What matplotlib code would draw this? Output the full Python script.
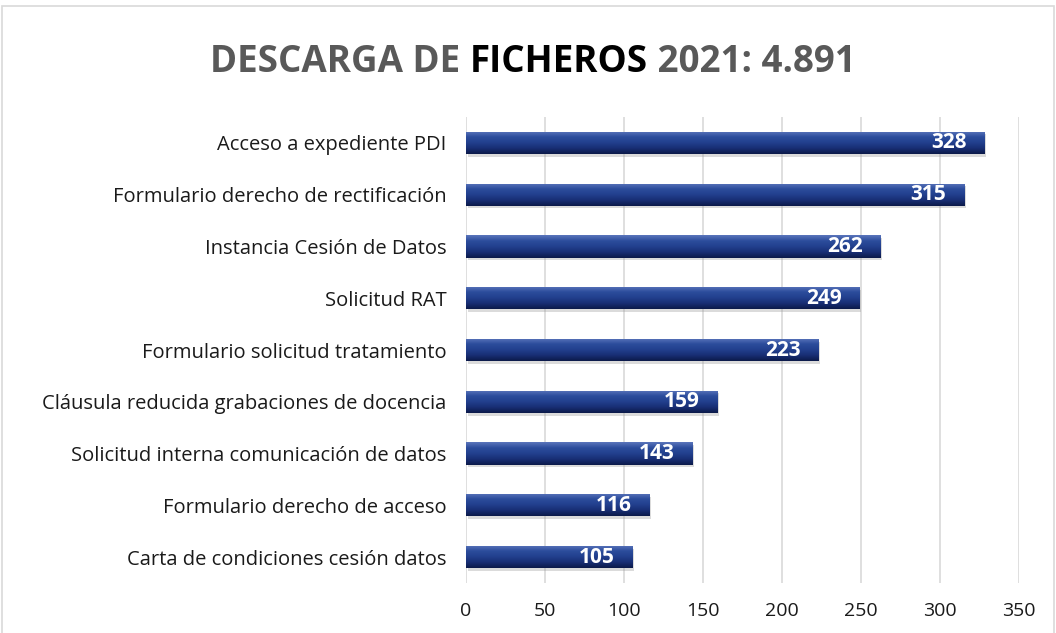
import numpy as np
import matplotlib
matplotlib.use("Agg")
import matplotlib.pyplot as plt
from matplotlib.colors import LinearSegmentedColormap
from matplotlib.patches import Rectangle

# data (bottom to top)
categories = ["Carta de condiciones cesión datos",
              "Formulario derecho de acceso",
              "Solicitud interna comunicación de datos",
              "Cláusula reducida grabaciones de docencia",
              "Formulario solicitud tratamiento",
              "Solicitud RAT",
              "Instancia Cesión de Datos",
              "Formulario derecho de rectificación",
              "Acceso a expediente PDI"]
downloads = [105, 116, 143, 159, 223, 249, 262, 315, 328]
xticks = [0, 50, 100, 150, 200, 250, 300, 350]

plt.rcParams['font.family'] = ['Open Sans', 'DejaVu Sans']

fig = plt.figure(figsize=(10.56, 6.33), dpi=100)
ax = fig.add_axes([0.441, 0.079, 0.524, 0.736])

# vertical gradient for the bars, light top -> dark bottom
bar_cmap = LinearSegmentedColormap.from_list(
    "barshade", ["#0c1a4a", "#182e74", "#22408e", "#2c4d9c", "#5a75bb"])
grad = np.linspace(0, 1, 64).reshape(-1, 1)

ypos = np.arange(len(categories))
bars = ax.barh(ypos, downloads, height=0.43, color="#1f3680", zorder=2)
for b in bars:
    x0, y0 = b.get_x(), b.get_y()
    w, h = b.get_width(), b.get_height()
    # soft shadow
    ax.add_patch(Rectangle((x0 + 1.2, y0 - 0.05), w, h, color="#9a9a9a",
                           alpha=0.35, lw=0, zorder=1.5))
    im = ax.imshow(grad, extent=(x0, x0 + w, y0, y0 + h), origin="lower",
                   cmap=bar_cmap, aspect="auto", zorder=2.5)
    im.set_clip_path(b)
    ax.text(x0 + w - 11, y0 + h / 2, str(int(w)), color="white",
            fontsize=15, fontweight="bold", ha="right", va="center",
            zorder=3)

ax.set_xlim(0, 350)
ax.set_ylim(-0.5, len(categories) - 0.5)
ax.set_xticks(xticks)
ax.set_xticklabels([str(t) for t in xticks], fontsize=14, color="#1a1a1a")
ax.set_yticks(ypos)
ax.set_yticklabels(categories, fontsize=14.5, color="#1a1a1a")
ax.tick_params(length=0, pad=14, axis="y")
ax.tick_params(length=0, pad=14, axis="x")
ax.grid(axis="x", color="#d9d9d9", lw=1.2, zorder=0)
ax.set_axisbelow(True)
for s in ax.spines.values():
    s.set_visible(False)

# title with the bold black word in the middle
ty = 0.902
fig.text(0.445, ty, "DESCARGA DE ", fontsize=26.5, fontweight="bold",
         color="#595959", ha="right", va="center")
t2 = fig.text(0.445, ty, "FICHEROS", fontsize=26.5, fontweight="bold",
              color="#000000", ha="left", va="center")
fig.canvas.draw()
bb = t2.get_window_extent()
fig.text(bb.x1 / fig.bbox.width, ty, " 2021: 4.891", fontsize=26.5,
         fontweight="bold", color="#595959", ha="left", va="center")

# light frame around the chart area
fig.add_artist(Rectangle((0.002, -0.01), 0.996, 1.0, transform=fig.transFigure,
                         fill=False, edgecolor="#d9d9d9", lw=1.2))

fig.savefig("out.png", dpi=100)
